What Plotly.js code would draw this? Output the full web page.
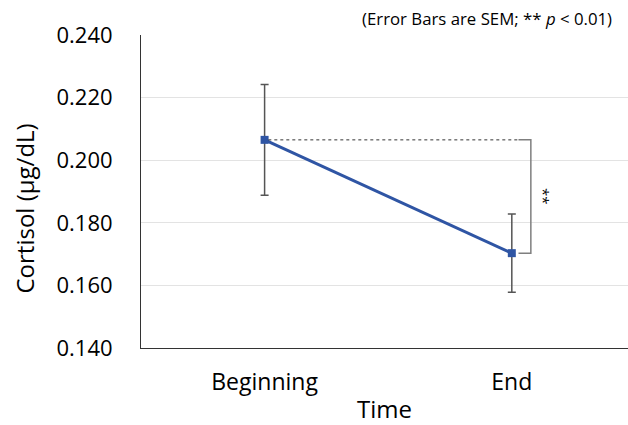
<!DOCTYPE html>
<html><head><meta charset="utf-8">
<script src="https://cdn.plot.ly/plotly-3.0.1.min.js"></script>
<style>html,body{margin:0;padding:0;background:#fff}#c{width:628px;height:425px}</style>
</head><body><div id="c"></div>
<script>
const categories = ["Beginning", "End"];
const cortisol = [0.2065, 0.1703];
const sem = [0.0177, 0.0125];
const yTicks = [0.140, 0.160, 0.180, 0.200, 0.220, 0.240];
const yTickText = ["0.140", "0.160", "0.180", "0.200", "0.220", "0.240"];

const font = "'Open Sans', 'Noto Sans', sans-serif";
const trace = {
  x: [0, 1], y: cortisol, type: 'scatter', mode: 'lines+markers',
  line: {color: '#2F55A4', width: 3},
  marker: {symbol: 'square', size: 8, color: '#2F55A4'},
  error_y: {type: 'data', array: sem, visible: true, color: '#555555', thickness: 1.5, width: 4}
};
const bx = 1.077;
const layout = {
  width: 628, height: 425,
  margin: {l: 141, r: 0, t: 35, b: 77},
  paper_bgcolor: '#fff', plot_bgcolor: '#fff',
  showlegend: false,
  font: {family: font, color: '#000'},
  xaxis: {
    range: [-0.5, 1.47], tickvals: [0, 1], ticktext: categories,
    showgrid: false, zeroline: false, showline: true, linecolor: '#333', linewidth: 1,
    ticks: '', tickfont: {size: 23, family: font, color: '#000'}, ticklabelstandoff: 13,
    title: {text: 'Time', font: {size: 24, family: font, color: '#000'}, standoff: 12}
  },
  yaxis: {
    range: [0.140, 0.240], tickvals: yTicks, ticktext: yTickText,
    showgrid: true, gridcolor: '#e3e3e3', gridwidth: 1, zeroline: false,
    showline: true, linecolor: '#333', linewidth: 1,
    ticks: '', tickfont: {size: 22, family: font, color: '#000'}, ticklabelstandoff: 23
  },
  shapes: [
    {type: 'line', xref: 'x', yref: 'y', x0: 0.015, x1: bx - 0.05, y0: cortisol[0], y1: cortisol[0],
     line: {color: '#333', width: 1, dash: 'dot'}},
    {type: 'path', xref: 'x', yref: 'y',
     path: `M ${bx-0.05} ${cortisol[0]} L ${bx} ${cortisol[0]} L ${bx} ${cortisol[1]} L ${bx-0.05} ${cortisol[1]}`,
     line: {color: '#7f7f7f', width: 1.5}}
  ],
  annotations: [
    {x: 0, y: 0.5, xref: 'paper', yref: 'paper', xanchor: 'center', yanchor: 'middle',
     xshift: -117, yshift: -17, textangle: -90,
     text: 'Cortisol (μg/dL)', showarrow: false, font: {size: 24, family: font, color: '#000'}},
    {x: bx + 0.055, y: (cortisol[0] + cortisol[1]) / 2, xref: 'x', yref: 'y', text: '**',
     textangle: 90, showarrow: false, font: {size: 15, family: font, color: '#000'}},
    {x: 1, y: 1, xref: 'paper', yref: 'paper', xanchor: 'right', yanchor: 'bottom', xshift: -14, yshift: 3,
     text: '(Error Bars are SEM; ** <i>p</i> < 0.01)', showarrow: false,
     font: {size: 16.8, family: font, color: '#000'}}
  ]
};
Plotly.newPlot('c', [trace], layout, {displayModeBar: false, staticPlot: true});
</script></body></html>
